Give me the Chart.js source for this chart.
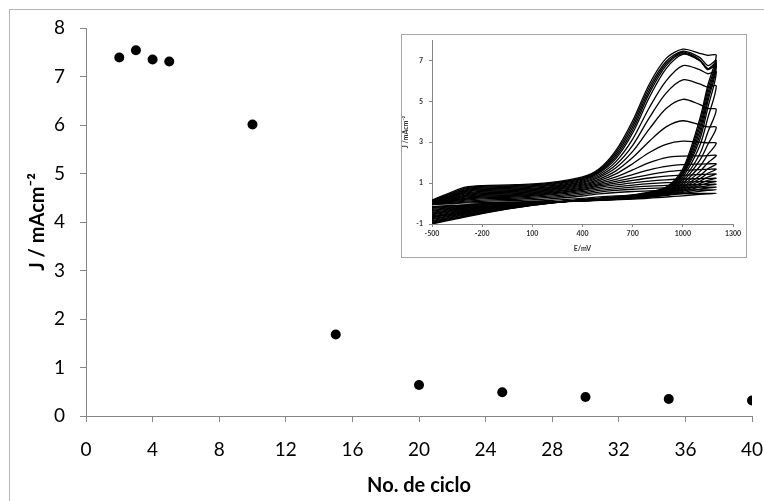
<!DOCTYPE html>
<html>
<head>
<meta charset="utf-8">
<script src="https://cdn.jsdelivr.net/npm/chart.js@4"></script>
<style>
  html, body { margin: 0; padding: 0; background: #fff; overflow: hidden; }
  #wrap { position: relative; width: 764px; height: 501px; overflow: hidden; }
  #frame { position: absolute; left: 9px; top: 9px; width: 780px; height: 520px; border: 1px solid #b4b4b4; }
  #main { position: absolute; left: 0; top: 0; }
  #insetBox { position: absolute; left: 401px; top: 34px; width: 344px; height: 222px; border: 1px solid #a6a6a6; background: #fff; }
  #inset { position: absolute; left: 0; top: 0; }
</style>
</head>
<body>
<div id="wrap">
  <div id="frame"></div>
  <canvas id="main" width="764" height="501"></canvas>
  <div id="insetBox"><canvas id="inset" width="344" height="222"></canvas></div>
</div>
<script>
// main chart: peak current vs cycle number
const cycles = [2, 3, 4, 5, 10, 15, 20, 25, 30, 35, 40];
const peakJ = [7.39, 7.54, 7.35, 7.31, 6.01, 1.68, 0.64, 0.49, 0.39, 0.35, 0.32];
const cycleTicks = [0, 4, 8, 12, 16, 20, 24, 28, 32, 36, 40];
const jTicks = [0, 1, 2, 3, 4, 5, 6, 7, 8];

// inset: voltammograms, forward and reverse sweeps (E in mV, J in mA/cm2)
const fwdE = [-500, -400, -300, -200, 0, 200, 400, 500, 600, 700, 800, 900, 1000, 1100, 1150, 1200];
const revE = [1150, 1100, 1000, 900, 700, 400, 100, -200, -500];
const cvFwd = [
  [0.14, 0.45, 0.76, 0.84, 0.88, 0.98, 1.27, 1.65, 2.5, 3.9, 5.7, 6.95, 7.45, 7.15, 6.75, 7.0],
  [0.17, 0.5, 0.8, 0.88, 0.92, 1.02, 1.3, 1.7, 2.6, 4.05, 5.85, 7.1, 7.55, 7.35, 7.25, 7.25],
  [0.12, 0.42, 0.72, 0.8, 0.84, 0.94, 1.23, 1.6, 2.4, 3.75, 5.55, 6.85, 7.4, 7.05, 6.6, 6.9],
  [0.1, 0.38, 0.67, 0.76, 0.8, 0.9, 1.19, 1.55, 2.3, 3.6, 5.4, 6.75, 7.35, 7.0, 6.55, 6.8],
  [0.08, 0.35, 0.63, 0.72, 0.76, 0.86, 1.15, 1.5, 2.2, 3.45, 5.2, 6.6, 7.3, 7.0, 6.6, 6.7],
  [0.07, 0.32, 0.59, 0.68, 0.72, 0.82, 1.1, 1.42, 2.05, 3.15, 4.7, 6.0, 6.75, 6.55, 6.35, 6.45],
  [0.06, 0.29, 0.55, 0.64, 0.68, 0.78, 1.05, 1.35, 1.9, 2.85, 4.2, 5.4, 6.05, 5.85, 5.7, 5.75],
  [0.05, 0.26, 0.51, 0.6, 0.64, 0.74, 1.0, 1.28, 1.75, 2.55, 3.65, 4.65, 5.1, 4.85, 4.65, 4.6],
  [0.04, 0.24, 0.47, 0.56, 0.6, 0.7, 0.95, 1.2, 1.6, 2.25, 3.05, 3.75, 4.05, 3.85, 3.75, 3.72],
  [0.03, 0.21, 0.43, 0.52, 0.56, 0.66, 0.9, 1.12, 1.45, 1.95, 2.5, 2.9, 3.05, 3.0, 2.97, 2.95],
  [0.02, 0.19, 0.39, 0.48, 0.52, 0.62, 0.85, 1.05, 1.3, 1.65, 2.0, 2.25, 2.32, 2.33, 2.34, 2.35],
  [0.01, 0.17, 0.35, 0.44, 0.48, 0.58, 0.8, 0.98, 1.18, 1.42, 1.65, 1.82, 1.9, 1.93, 1.94, 1.94],
  [0.0, 0.15, 0.31, 0.4, 0.44, 0.54, 0.75, 0.92, 1.08, 1.26, 1.42, 1.55, 1.62, 1.66, 1.67, 1.68],
  [-0.01, 0.13, 0.27, 0.36, 0.4, 0.5, 0.7, 0.86, 1.0, 1.13, 1.25, 1.34, 1.39, 1.42, 1.43, 1.44],
  [-0.02, 0.11, 0.24, 0.32, 0.36, 0.46, 0.64, 0.79, 0.91, 1.01, 1.1, 1.16, 1.2, 1.22, 1.23, 1.24],
  [-0.03, 0.09, 0.21, 0.28, 0.32, 0.42, 0.58, 0.72, 0.82, 0.9, 0.97, 1.02, 1.05, 1.07, 1.08, 1.08],
  [-0.03, 0.07, 0.17, 0.23, 0.27, 0.36, 0.52, 0.64, 0.73, 0.8, 0.85, 0.89, 0.91, 0.93, 0.94, 0.94],
  [-0.04, 0.04, 0.12, 0.17, 0.21, 0.3, 0.45, 0.56, 0.64, 0.7, 0.74, 0.77, 0.79, 0.8, 0.8, 0.8],
  [-0.04, 0.01, 0.07, 0.11, 0.15, 0.23, 0.37, 0.47, 0.54, 0.59, 0.62, 0.64, 0.66, 0.67, 0.67, 0.67],
  [-0.05, -0.01, 0.03, 0.05, 0.08, 0.15, 0.25, 0.33, 0.38, 0.41, 0.44, 0.46, 0.48, 0.5, 0.5, 0.5]
];
const cvRev = [
  [5.6, 3.9, 1.6, 0.75, 0.4, 0.18, -0.09, -0.49, -1.0],
  [5.8, 4.1, 1.7, 0.8, 0.42, 0.19, -0.08, -0.47, -0.96],
  [5.4, 3.7, 1.55, 0.75, 0.4, 0.18, -0.07, -0.44, -0.92],
  [5.2, 3.5, 1.5, 0.72, 0.39, 0.18, -0.06, -0.41, -0.87],
  [5.0, 3.3, 1.45, 0.7, 0.38, 0.18, -0.05, -0.38, -0.83],
  [4.7, 3.1, 1.4, 0.68, 0.37, 0.18, -0.04, -0.35, -0.78],
  [4.2, 2.8, 1.3, 0.65, 0.36, 0.18, -0.03, -0.32, -0.74],
  [3.5, 2.4, 1.2, 0.62, 0.35, 0.17, -0.02, -0.29, -0.69],
  [2.9, 2.1, 1.1, 0.6, 0.34, 0.17, -0.01, -0.26, -0.65],
  [2.4, 1.8, 1.0, 0.58, 0.33, 0.17, 0.0, -0.23, -0.6],
  [2.0, 1.55, 0.92, 0.56, 0.32, 0.17, 0.0, -0.2, -0.55],
  [1.7, 1.35, 0.85, 0.54, 0.31, 0.16, 0.01, -0.17, -0.51],
  [1.48, 1.2, 0.8, 0.52, 0.3, 0.16, 0.01, -0.15, -0.46],
  [1.3, 1.08, 0.75, 0.5, 0.29, 0.15, 0.02, -0.12, -0.42],
  [1.14, 0.98, 0.7, 0.48, 0.28, 0.15, 0.02, -0.1, -0.37],
  [1.0, 0.88, 0.65, 0.46, 0.27, 0.14, 0.03, -0.08, -0.33],
  [0.88, 0.8, 0.6, 0.44, 0.26, 0.14, 0.03, -0.06, -0.28],
  [0.76, 0.7, 0.55, 0.42, 0.25, 0.13, 0.04, -0.05, -0.24],
  [0.64, 0.6, 0.5, 0.4, 0.24, 0.13, 0.04, -0.03, -0.19],
  [0.48, 0.45, 0.38, 0.32, 0.22, 0.12, 0.05, -0.02, -0.15]
];
const insetETicks = [-500, -200, 100, 400, 700, 1000, 1300];
const insetJTicks = [-1, 1, 3, 5, 7];

const axisGray = '#868686';
const font = 'Lato';
const plain = v => String(v);

new Chart(document.getElementById('main'), {
  type: 'scatter',
  data: {
    datasets: [{
      data: cycles.map((c, i) => ({ x: c, y: peakJ[i] })),
      pointRadius: 5,
      pointBackgroundColor: '#000',
      pointBorderColor: '#000',
      pointBorderWidth: 0
    }]
  },
  options: {
    responsive: false,
    animation: false,
    events: [],
    layout: { padding: { top: 28, right: 12, left: 0, bottom: 0 } },
    plugins: { legend: { display: false }, tooltip: { enabled: false } },
    scales: {
      x: {
        type: 'linear', min: 0, max: 40,
        afterBuildTicks: s => { s.ticks = cycleTicks.map(v => ({ value: v })); },
        afterFit: s => { s.height = 85; s.paddingLeft = 0; s.paddingRight = 0; },
        grid: { drawOnChartArea: false, drawTicks: true, tickLength: 6, color: axisGray },
        border: { color: axisGray },
        ticks: { color: '#000', font: { family: font, size: 19 }, padding: 16, maxRotation: 0, callback: plain },
        title: { display: true, text: 'No. de ciclo', color: '#000',
                 font: { family: font, size: 20, weight: 'bold' }, padding: { top: 0, bottom: 3 } }
      },
      y: {
        type: 'linear', min: 0, max: 8,
        afterBuildTicks: s => { s.ticks = jTicks.map(v => ({ value: v })); },
        afterFit: s => { s.width = 86; s.paddingTop = 0; s.paddingBottom = 0; },
        grid: { drawOnChartArea: false, drawTicks: true, tickLength: 6, color: axisGray },
        border: { color: axisGray },
        ticks: { color: '#000', font: { family: font, size: 19 }, padding: 15, callback: plain },
        title: { display: true, text: 'J / mAcm\u207B\u00B2', color: '#000',
                 font: { family: font, size: 20, weight: 'bold' }, padding: { top: 26, bottom: 0 } }
      }
    }
  }
});

new Chart(document.getElementById('inset'), {
  type: 'scatter',
  data: {
    datasets: cvFwd.map((row, k) => ({
      data: fwdE.map((e, i) => ({ x: e, y: row[i] }))
        .concat(revE.map((e, i) => ({ x: e, y: cvRev[k][i] }))),
      showLine: true,
      borderColor: '#000',
      borderWidth: 1.3,
      pointRadius: 0,
      tension: 0.3
    }))
  },
  options: {
    responsive: false,
    animation: false,
    events: [],
    layout: { padding: { top: 5, right: 13, left: 0, bottom: 0 } },
    plugins: { legend: { display: false }, tooltip: { enabled: false } },
    scales: {
      x: {
        type: 'linear', min: -500, max: 1300,
        afterBuildTicks: s => { s.ticks = insetETicks.map(v => ({ value: v })); },
        afterFit: s => { s.height = 33; s.paddingLeft = 0; s.paddingRight = 0; },
        grid: { drawOnChartArea: false, drawTicks: true, tickLength: 3, color: axisGray },
        border: { color: axisGray },
        ticks: { color: '#333', font: { family: font, size: 7, weight: 'bold' }, padding: 3, maxRotation: 0, callback: plain },
        title: { display: true, text: 'E/mV', color: '#333',
                 font: { family: font, size: 7, weight: 'bold' }, padding: { top: 0, bottom: 4 } }
      },
      y: {
        type: 'linear', min: -1, max: 8,
        afterBuildTicks: s => { s.ticks = insetJTicks.map(v => ({ value: v })); },
        afterFit: s => { s.width = 30; s.paddingTop = 0; s.paddingBottom = 0; },
        grid: { drawOnChartArea: false, drawTicks: true, tickLength: 3, color: axisGray },
        border: { color: axisGray },
        ticks: { color: '#333', font: { family: font, size: 7, weight: 'bold' }, padding: 6, callback: plain },
        title: { display: true, text: 'J /mAcm\u207B\u00B2', color: '#333',
                 font: { family: font, size: 7, weight: 'bold' }, padding: { top: 0, bottom: 0 } }
      }
    }
  }
});
</script>
</body>
</html>
